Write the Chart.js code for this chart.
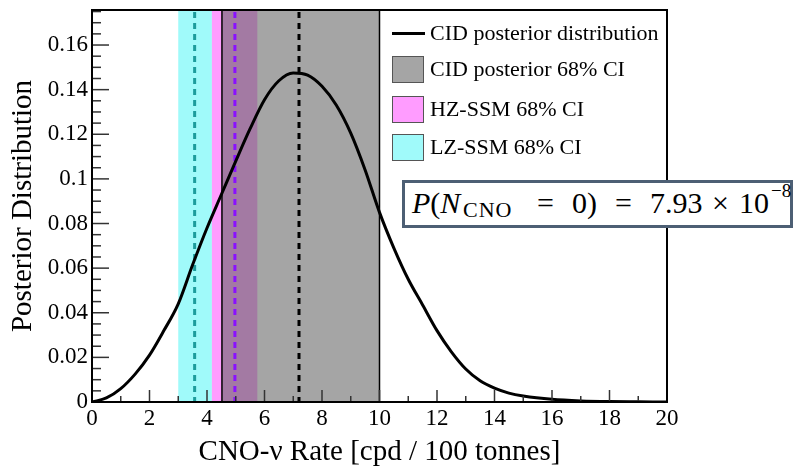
<!DOCTYPE html>
<html>
<head>
<meta charset="utf-8">
<script src="https://cdn.jsdelivr.net/npm/chart.js@4/dist/chart.umd.min.js"></script>
<style>
  body { margin: 0; background: #fff; }
  #wrap { position: relative; width: 798px; height: 470px; font-family: "Liberation Serif", "DejaVu Serif", serif; }
  #legend { position: absolute; left: 381px; top: 11px; width: 285px; }
  .item { position: absolute; left: 11px; height: 28px; white-space: nowrap; font-size: 22px; }
  .swatch { position: absolute; left: 0; width: 32px; height: 27px; border: 1px solid #555; box-sizing: border-box; }
  .line { position: absolute; left: 0; width: 33px; height: 3px; background: #000; }
  .item span { position: absolute; left: 38px; line-height: 28px; }
  #note { position: absolute; left: 402px; top: 180px; width: 391px; height: 48px; box-sizing: border-box;
          border: 3px solid #4d5f74; background: #fff; white-space: nowrap; }
  #note span { position: absolute; font-size: 30px; line-height: 34px; top: 3px; }
  #note span.sub { font-size: 22px; line-height: 23px; top: 15px; letter-spacing: 1px; }
  #note span.sup { font-size: 19px; line-height: 22px; top: -3px; }
</style>
</head>
<body>
<div id="wrap">
  <canvas id="chart" width="798" height="470"></canvas>
  <div id="legend">
    <div class="item" style="top:8px"><div class="line" style="top:13px"></div><span>CID posterior distribution</span></div>
    <div class="item" style="top:45px"><div class="swatch" style="background:#a5a5a5"></div><span style="top:-1px">CID posterior 68% CI</span></div>
    <div class="item" style="top:85px"><div class="swatch" style="background:#ff9cff"></div><span style="top:-1px">HZ-SSM 68% CI</span></div>
    <div class="item" style="top:123px"><div class="swatch" style="background:#a0fafa"></div><span style="top:-1px">LZ-SSM 68% CI</span></div>
  </div>
  <div id="note">
    <span style="left:7px"><i>P</i>(<i>N</i></span>
    <span class="sub" style="left:58px">CNO</span>
    <span style="left:132px">=</span>
    <span style="left:167px">0)</span>
    <span style="left:210px">=</span>
    <span style="left:245px">7.93</span>
    <span style="left:307px">×</span>
    <span style="left:334px">10</span>
    <span class="sup" style="left:366px">−8</span>
  </div>
</div>
<script>
// posterior curve
const rate = [0, 0.5, 1, 1.5, 2, 2.5, 3, 3.5, 4, 4.5, 5, 5.5, 6, 6.5, 7, 7.5, 8, 8.5, 9, 9.5, 10,
              10.5, 11, 11.5, 12, 12.5, 13, 13.5, 14, 14.5, 15, 16, 17, 18, 19, 20];
const posterior = [0, 0.0018, 0.006, 0.0125, 0.021, 0.032, 0.044, 0.0615, 0.078, 0.093, 0.108, 0.1225,
                   0.1355, 0.144, 0.1475, 0.1465, 0.1415, 0.133, 0.1205, 0.104, 0.085, 0.069, 0.055,
                   0.0435, 0.032, 0.0225, 0.0148, 0.0095, 0.0062, 0.004, 0.0027, 0.0012, 0.0005,
                   0.0002, 0.0001, 0];

// 68% intervals and central values
const bandLZ = [3.0, 4.17];
const bandHZ = [4.17, 5.75];
const bandCID = [4.52, 10.0];
const centres = [3.57, 4.97, 7.2];
const centreColours = ['#1c9c9c', '#8a10ff', '#000000'];

const xTicks = [0, 2, 4, 6, 8, 10, 12, 14, 16, 18, 20];
const yTicks = [0, 0.02, 0.04, 0.06, 0.08, 0.1, 0.12, 0.14, 0.16];
const yTickLabels = ['0', '0.02', '0.04', '0.06', '0.08', '0.1', '0.12', '0.14', '0.16'];

const points = rate.map((r, i) => ({ x: r, y: posterior[i] }));

const bands = {
  id: 'bands',
  beforeDatasetsDraw(chart) {
    const { ctx, chartArea: a, scales: { x } } = chart;
    const fill = (r, c) => {
      ctx.fillStyle = c;
      ctx.fillRect(x.getPixelForValue(r[0]), a.top, x.getPixelForValue(r[1]) - x.getPixelForValue(r[0]), a.bottom - a.top);
    };
    ctx.save();
    fill(bandLZ, '#a0fafa');
    fill(bandHZ, '#ff9cff');
    fill(bandCID, '#a5a5a5');
    fill([Math.max(bandHZ[0], bandCID[0]), Math.min(bandHZ[1], bandCID[1])], '#a37aa3');
    ctx.strokeStyle = '#000';
    ctx.lineWidth = 1.5;
    bandCID.forEach(v => {
      const px = x.getPixelForValue(v);
      ctx.beginPath(); ctx.moveTo(px, a.top); ctx.lineTo(px, a.bottom); ctx.stroke();
    });
    ctx.lineWidth = 3;
    ctx.setLineDash([6, 5]);
    centres.forEach((v, i) => {
      const px = x.getPixelForValue(v);
      ctx.strokeStyle = centreColours[i];
      ctx.beginPath(); ctx.moveTo(px, a.top + 2); ctx.lineTo(px, a.bottom); ctx.stroke();
    });
    ctx.restore();
  }
};

const frame = {
  id: 'frame',
  afterDraw(chart) {
    const { ctx, chartArea: a, scales: { x, y } } = chart;
    ctx.save();
    ctx.strokeStyle = '#333';
    ctx.lineWidth = 1.5;
    // ticks inside the frame, ROOT style
    for (let v = 0; v <= 20; v += 1) {
      const px = x.getPixelForValue(v);
      const len = v % 2 === 0 ? 12 : 6;
      ctx.beginPath(); ctx.moveTo(px, a.bottom); ctx.lineTo(px, a.bottom - len); ctx.stroke();
    }
    for (let k = 0; k <= 35; k++) {
      const v = k * 0.005;
      const py = y.getPixelForValue(v);
      if (py < a.top) break;
      const len = k % 4 === 0 ? 17 : 9;
      ctx.beginPath(); ctx.moveTo(a.left, py); ctx.lineTo(a.left + len, py); ctx.stroke();
    }
    ctx.strokeStyle = '#000';
    ctx.lineWidth = 2;
    ctx.strokeRect(a.left, a.top, a.right - a.left, a.bottom - a.top);
    ctx.restore();
  }
};

new Chart(document.getElementById('chart'), {
  type: 'scatter',
  data: {
    datasets: [{
      label: 'CID posterior distribution',
      data: points,
      showLine: true,
      borderColor: '#000',
      borderWidth: 3,
      pointRadius: 0,
      cubicInterpolationMode: 'monotone'
    }]
  },
  options: {
    responsive: false,
    animation: false,
    layout: { padding: { left: 0, top: 10, right: 131, bottom: 0 } },
    plugins: { legend: { display: false }, tooltip: { enabled: false } },
    scales: {
      x: {
        type: 'linear', min: 0, max: 20,
        afterBuildTicks: s => { s.ticks = xTicks.map(v => ({ value: v })); },
        afterFit: s => { s.height = 68; s.paddingLeft = 0; s.paddingRight = 0; },
        grid: { display: false, drawTicks: false },
        border: { display: false },
        ticks: { color: '#000', padding: 3, font: { family: 'Liberation Serif', size: 23 }, maxRotation: 0 },
        title: { display: true, text: 'CNO-ν Rate [cpd / 100 tonnes]', color: '#000',
                 font: { family: 'Liberation Serif', size: 29 }, padding: { top: 0, bottom: 0 } }
      },
      y: {
        type: 'linear', min: 0, max: 0.1757,
        afterBuildTicks: s => { s.ticks = yTicks.map(v => ({ value: v })); },
        afterFit: s => { s.width = 92; s.paddingTop = 0; s.paddingBottom = 0; },
        grid: { display: false, drawTicks: false },
        border: { display: false },
        ticks: { color: '#000', padding: 4, font: { family: 'Liberation Serif', size: 23 },
                 callback: (v, i) => yTickLabels[i] },
        title: { display: true, text: 'Posterior Distribution', color: '#000',
                 font: { family: 'Liberation Serif', size: 29 }, padding: { top: 6, bottom: 0 } }
      }
    }
  },
  plugins: [bands, frame]
});
</script>
</body>
</html>
